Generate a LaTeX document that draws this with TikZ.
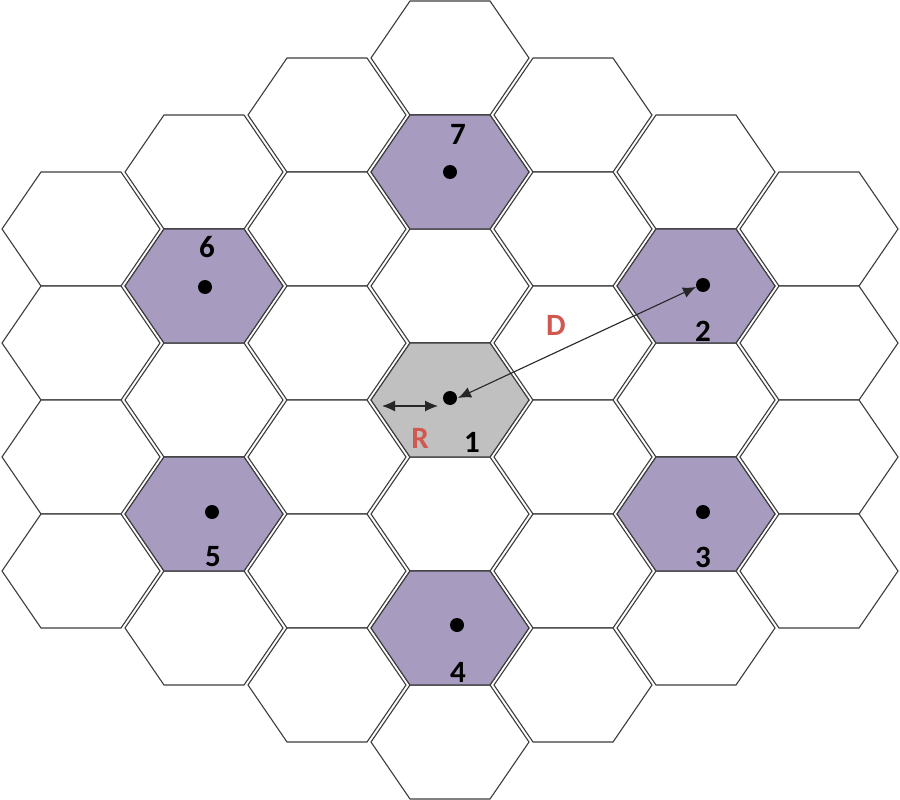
\documentclass[tikz,border=0pt]{standalone}
\usepackage{fontspec}
\setmainfont{Carlito}
\usetikzlibrary{arrows.meta}
\definecolor{hexline}{RGB}{60,60,60}
\definecolor{purp}{RGB}{168,155,192}
\definecolor{graycell}{RGB}{192,192,192}
\definecolor{dimred}{RGB}{208,88,78}
\tikzset{
  hexcell/.style={draw=hexline, line width=1.1pt, fill=white, line join=miter},
  cochan/.style={hexcell, fill=purp},
  homecell/.style={hexcell, fill=graycell},
  site/.style={circle, fill=black, inner sep=0pt, minimum size=14pt},
  num/.style={font=\bfseries\fontsize{31}{31}\selectfont, text=black, inner sep=0pt},
  dimlabel/.style={font=\bfseries\fontsize{31}{31}\selectfont, text=dimred, inner sep=0pt},
  dimarrow/.style={{Latex[length=13pt,width=11pt]}-{Latex[length=13pt,width=11pt]}, line width=1.1pt, draw=black!85},
}
\newcommand\hexat[3]{\draw[#3, shift={(#1,#2)}] (-79,0) -- (-40,-57) -- (40,-57) -- (79,0) -- (40,57) -- (-40,57) -- cycle;}
\begin{document}
\begin{tikzpicture}[x=1pt,y=-1pt]
\useasboundingbox (0,0) rectangle (900,800);
% column x=450
\foreach \yy in {58,172,286,400,514,628,742} {\hexat{450}{\yy}{hexcell}}
% columns x=327,573
\foreach \xx in {327,573} {\foreach \yy in {115,229,343,457,571,685} {\hexat{\xx}{\yy}{hexcell}}}
% columns x=204,696
\foreach \xx in {204,696} {\foreach \yy in {172,286,400,514,628} {\hexat{\xx}{\yy}{hexcell}}}
% columns x=81,819
\foreach \xx in {81,819} {\foreach \yy in {229,343,457,571} {\hexat{\xx}{\yy}{hexcell}}}
% co-channel cells
\hexat{450}{400}{homecell}
\hexat{450}{172}{cochan}
\hexat{204}{286}{cochan}
\hexat{696}{286}{cochan}
\hexat{204}{514}{cochan}
\hexat{696}{514}{cochan}
\hexat{450}{628}{cochan}
% sites
\node[site] (s1) at (450,398) {};
\node[site] (s7) at (450,172) {};
\node[site] (s6) at (205,287) {};
\node[site] (s2) at (703,285) {};
\node[site] (s5) at (212,512) {};
\node[site] (s3) at (703,512) {};
\node[site] (s4) at (457,625) {};
% labels
\node[num] (l7) at (458,134) {7};
\node[num] (l6) at (207,247) {6};
\node[num] (l2) at (703,331) {2};
\node[num] (l4) at (458,672) {4};
\node[num] (l5) at (213,557) {5};
\node[num] (l3) at (703,557) {3};
\node[num] (l1) at (472,442) {1};
\node[dimlabel] (lR) at (420,438) {R};
\node[dimlabel] (lD) at (556,325) {D};
% arrows
\coordinate (rA) at (382,406);
\coordinate (rB) at (438,406);
\draw[dimarrow] (rA) -- (rB);
\coordinate (dA) at (458,398);
\coordinate (dB) at (696,287);
\draw[dimarrow] (dA) -- (dB);
\end{tikzpicture}
\end{document}
